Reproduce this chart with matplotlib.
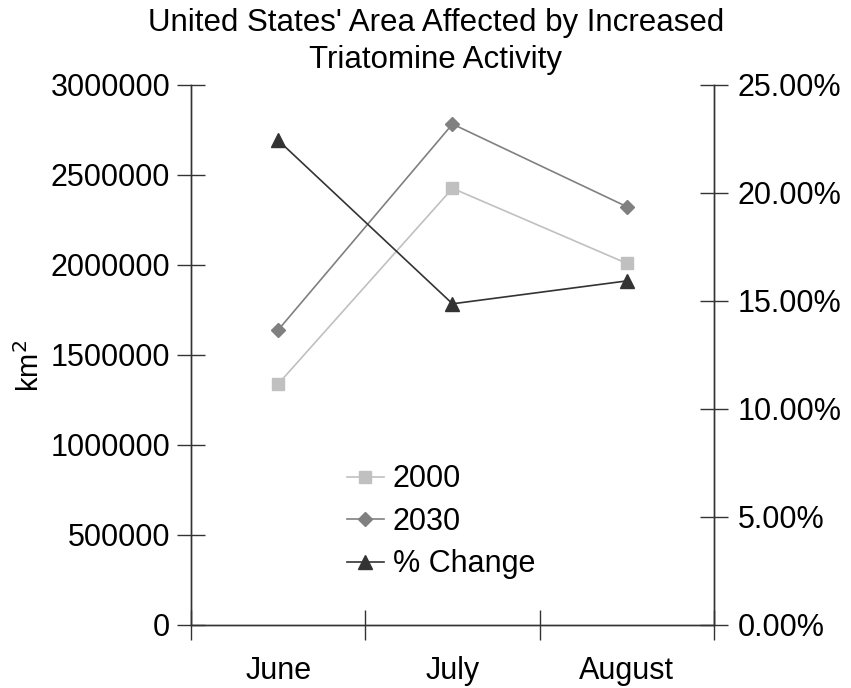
import matplotlib.pyplot as plt
import numpy as np
from matplotlib.ticker import FuncFormatter

plt.rcParams['font.family'] = ['Liberation Sans', 'DejaVu Sans']

months = ['June', 'July', 'August']
area_2000 = [1339000, 2426000, 2009000]
area_2030 = [1639000, 2783000, 2324000]
pct_change = [22.44, 14.87, 15.93]

x = np.arange(len(months))

fig = plt.figure(figsize=(8.51, 6.88), dpi=100)
ax = fig.add_axes([191/851, 1 - 625/688, (714 - 191)/851, (625 - 85)/688])
ax2 = ax.twinx()

l1, = ax.plot(x, area_2000, color='#c0c0c0', lw=1.2, marker='s', ms=9, label='2000')
l2, = ax.plot(x, area_2030, color='#808080', lw=1.2, marker='D', ms=7, label='2030')
l3, = ax2.plot(x, pct_change, color='#333333', lw=1.2, marker='^', ms=10, label='% Change')

ax.set_xlim(-0.5, 2.5)
ax.set_ylim(0, 3000000)
ax2.set_ylim(0, 25)
ax.set_yticks(np.arange(0, 3000001, 500000))
ax2.set_yticks(np.arange(0, 26, 5))
ax.yaxis.set_major_formatter(FuncFormatter(lambda v, p: '%d' % v))
ax2.yaxis.set_major_formatter(FuncFormatter(lambda v, p: '%.2f%%' % v))

# month labels sit between the boundary ticks
ax.set_xticks(x)
ax.set_xticklabels(months)
ax.set_xticks([-0.5, 0.5, 1.5, 2.5], minor=True)
ax.tick_params(axis='x', which='major', length=0, pad=22, labelsize=22)
ax.tick_params(axis='x', which='minor', direction='inout', length=22, width=1, color='#333333')
ax.tick_params(axis='y', direction='inout', length=20, width=1, color='#333333', labelsize=22, pad=5)
ax2.tick_params(axis='y', direction='inout', length=20, width=1, color='#333333', labelsize=22, pad=7)

for a in (ax, ax2):
    a.spines['top'].set_visible(False)
    for s in ('left', 'right', 'bottom'):
        a.spines[s].set_color('#333333')
        a.spines[s].set_linewidth(1)

ax.set_ylabel('km$^2$', fontsize=21)
ax.yaxis.set_label_coords(-0.28, 0.48)
ax.set_title("United States' Area Affected by Increased\nTriatomine Activity",
             fontsize=22.5, linespacing=1.3, pad=12.5, x=0.468)

ax.legend(handles=[l1, l2, l3], loc='upper left', bbox_to_anchor=(0.274, 0.32),
          frameon=False, fontsize=22, handlelength=1.24, handletextpad=0.28,
          labelspacing=0.41, borderaxespad=0)

fig.savefig('out.png', dpi=100)
